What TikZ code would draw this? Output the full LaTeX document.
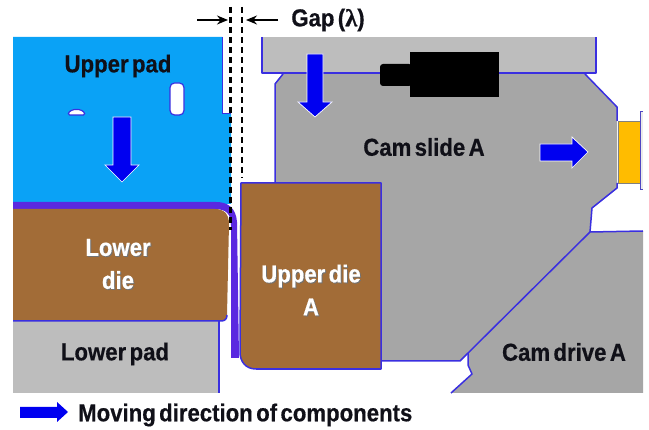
\documentclass[tikz,border=0pt]{standalone}
\usepackage{fontspec}
\setmainfont{Liberation Sans}[FakeStretch=0.905,WordSpace=0.55,BoldFeatures={FakeBold=0.5}]
\newfontfamily\lamfont{Liberation Serif}[FakeBold=1]
\usetikzlibrary{arrows.meta,shadows}
\definecolor{edgeblue}{HTML}{3A2FE0}
\definecolor{padblue}{HTML}{0AA2F6}
\definecolor{bandblue}{HTML}{5A28E0}
\definecolor{diebrown}{HTML}{A26C37}
\definecolor{lightgray}{HTML}{BDBDBD}
\definecolor{midgray}{HTML}{A6A6A6}
\definecolor{camyellow}{HTML}{FFBC00}
\definecolor{arrowblue}{HTML}{0000F0}
\definecolor{inktext}{HTML}{101018}
\tikzset{
  x=1pt,y=-1pt,
  outlined/.style={draw=edgeblue,line width=1.5pt,line join=round},
  labeltext/.style={font=\bfseries\fontsize{24.5}{28}\selectfont,text=inktext,inner sep=0pt,align=center},
  dielabel/.style={font=\bfseries\fontsize{24.5}{33}\selectfont,text=white,inner sep=0pt,align=center},
  dielabelshadow/.style={font=\bfseries\fontsize{24.5}{33}\selectfont,text=black!55,inner sep=0pt,align=center},
  movearrow/.style={fill=arrowblue,draw=white,line width=0.7pt,line join=miter},
  gapline/.style={draw=black,line width=2.4pt,dash pattern=on 6.5pt off 3.5pt},
  gaparrow/.style={draw=black,line width=1.5pt,-{Stealth[length=11pt,width=9pt]}},
}
\begin{document}
\begin{tikzpicture}
\useasboundingbox (0,0) rectangle (649,430);
% Cam slide A
\fill[midgray] (283,73) -- (275,84) -- (275,200) -- (381,361) -- (460,361) -- (468,353) -- (590,232) -- (592,208) -- (617,188) -- (617,107) -- (585,74) -- cycle;
\fill[midgray] (275,183) rectangle (400,361);
% yellow block and flange
\fill[camyellow,draw=black!50,line width=0.5pt] (618,121) rectangle (640,183);
\fill[black!8] (640,112) rectangle (643,190);
\draw[edgeblue!70!gray,line width=1pt] (643,112) -- (640,112) -- (640,190) -- (643,190);
% top plate
\fill[lightgray] (262,37) rectangle (596,73);
\draw[outlined,line width=1.9pt] (262,37) -- (262,73) -- (596,73) -- (596,37);
\draw[outlined] (283,74) -- (275,84) -- (275,183);
\draw[outlined] (585,74) -- (617,107) -- (617,121);
\draw[outlined] (617,183) -- (617,188) -- (592,208) -- (590,232);
% Cam drive A
\fill[midgray] (590,232) -- (643,231) -- (643,393) -- (451,393) -- (472,374) -- (468,365) -- (468,353) -- cycle;
\draw[outlined] (382,361) -- (460,361) -- (590,232) -- (643,231);
\draw[outlined] (468,353) -- (468,365) -- (472,374) -- (451,393);
% Black cylinder
\fill[black,rounded corners=3pt] (380,64) rectangle (412,86);
\fill[black] (410,52) rectangle (499,97);
% Upper pad
\fill[padblue] (13,37) -- (222,37) -- (222,114) -- (231,114) -- (231,204) -- (13,204) -- cycle;
\fill[white,draw=edgeblue,line width=1.2pt,rounded corners=4.5pt] (170,115) -- (170,83) -- (184,83) -- (184,115) -- cycle;
\fill[white,draw=edgeblue,line width=1.2pt,rounded corners=1.5pt] (68,115) .. controls (70,108) and (83,108) .. (85,115) -- cycle;
\draw[edgeblue,line width=1pt] (222,37) -- (222,114) -- (231,114);
% Purple band and thin strip
\fill[bandblue] (13,202) -- (216,202) .. controls (228,202) and (236,208) .. (237,222) -- (239,358) -- (231,358) -- (231,225) .. controls (231,214) and (226,209) .. (215,209) -- (13,209) -- cycle;
% Lower pad
\fill[lightgray] (13,321) rectangle (219,393);
\draw[outlined] (219,321) -- (219,393);
% Lower die
\fill[diebrown] (13,209) -- (215,209) .. controls (224,209) and (229,214) .. (229,224) -- (227,315) .. controls (227,319) and (225,321) .. (221,321) -- (13,321) -- cycle;
\draw[outlined] (13,321) -- (221,321) .. controls (225,321) and (227,319) .. (227,315);
% Upper die A
\fill[white] (232,183) rectangle (241,204);
\filldraw[fill=diebrown,outlined] (241,183) -- (381,183) -- (381,369) -- (256,369) .. controls (246,369) and (240,362) .. (240,352) -- cycle;
\draw[outlined,line width=2pt] (381,369) -- (256,369);
% Gap lines
\coordinate (gapleftTop) at (230.5,7);
\coordinate (gapleftEnd) at (230.5,230);
\coordinate (gaprightTop) at (242,7);
\coordinate (gaprightEnd) at (242,178);
\draw[gapline] (gapleftTop) -- (gapleftEnd);
\draw[gapline] (gaprightTop) -- (gaprightEnd);
\coordinate (gapAstart) at (197,20);
\coordinate (gapAend) at (228,20);
\coordinate (gapBstart) at (278,20);
\coordinate (gapBend) at (246,20);
\draw[gaparrow] (gapAstart) -- (gapAend);
\draw[gaparrow] (gapBstart) -- (gapBend);
% Moving arrows
\draw[movearrow] (113,117) -- (131,117) -- (131,165) -- (139,165) -- (122,182) -- (105,165) -- (113,165) -- cycle;
\draw[movearrow] (307,54) -- (323,54) -- (323,102) -- (332,102) -- (315,117) -- (298,102) -- (307,102) -- cycle;
\draw[movearrow] (540,144) -- (572,144) -- (572,137) -- (588,152) -- (572,168) -- (572,161) -- (540,161) -- cycle;
\fill[arrowblue] (20,407) -- (57,407) -- (57,402) -- (68,412) -- (57,422) -- (57,418) -- (20,418) -- cycle;
% Labels
\node[labeltext] (gaplabel) at (328,20) {Gap ({\lamfont λ})};
\node[labeltext] (upperpad) at (118,66) {Upper pad};
\node[labeltext] (camslide) at (424,147) {Cam slide A};
\node[labeltext] (lowerpad) at (115,354) {Lower pad};
\node[labeltext] (camdrive) at (564,352) {Cam drive A};
\node[dielabelshadow] (lowerdieS) at (119,265) {Lower\\die};
\node[dielabel] (lowerdie) at (118,264) {Lower\\die};
\node[dielabelshadow] (upperdieS) at (312,291) {Upper die\\A};
\node[dielabel] (upperdie) at (311,290) {Upper die\\A};
\node[labeltext,anchor=west] (legend) at (78,415) {Moving direction of components};
\end{tikzpicture}
\end{document}
